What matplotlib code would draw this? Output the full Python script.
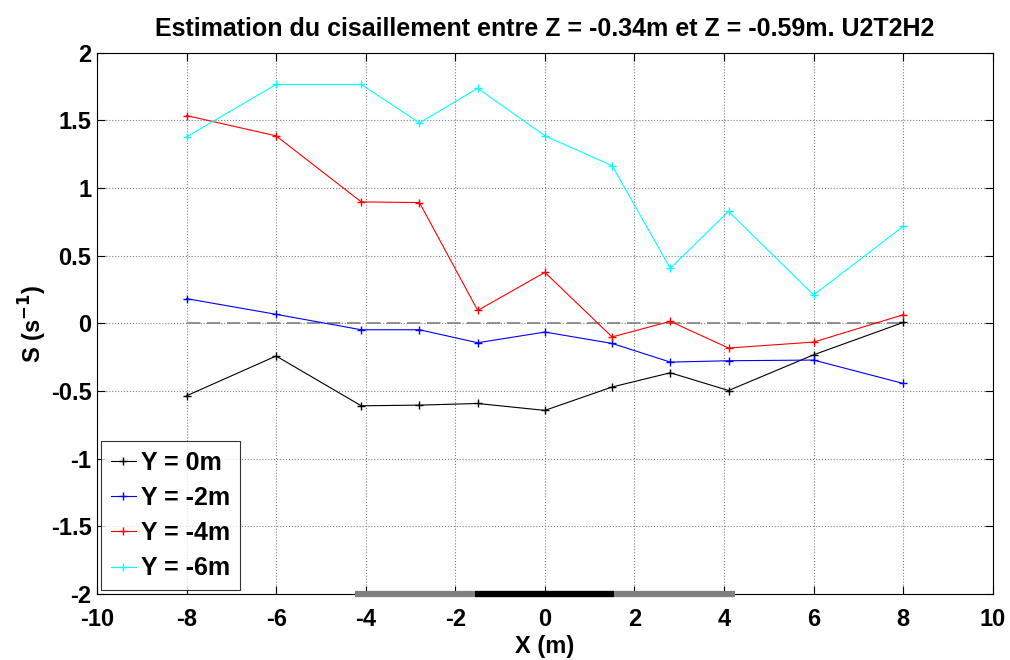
import numpy as np
import matplotlib
matplotlib.use("Agg")
import matplotlib.pyplot as plt

plt.rcParams['font.family'] = ['Liberation Sans', 'DejaVu Sans']
plt.rcParams['font.weight'] = 'bold'
plt.rcParams['axes.unicode_minus'] = False
plt.rcParams['mathtext.default'] = 'bf'

# Données
X = [-8, -6, -4.1, -2.8, -1.5, 0, 1.5, 2.8, 4.1, 6, 8]
S_y0 = [-0.535, -0.241, -0.609, -0.604, -0.592, -0.643, -0.470, -0.365, -0.496, -0.232, 0.007]
S_y2 = [0.183, 0.067, -0.047, -0.047, -0.143, -0.064, -0.148, -0.286, -0.276, -0.271, -0.444]
S_y4 = [1.536, 1.386, 0.898, 0.893, 0.096, 0.377, -0.100, 0.015, -0.182, -0.138, 0.064]
S_y6 = [1.379, 1.766, 1.766, 1.482, 1.738, 1.386, 1.166, 0.407, 0.828, 0.210, 0.717]
labels = ["Y = 0m", "Y = -2m", "Y = -4m", "Y = -6m"]
couleurs = ["black", "blue", "red", "cyan"]

# barres en bas (zones)
zone_grise = [-4.25, 4.25]
zone_noire = [-1.55, 1.55]

fig = plt.figure(figsize=(10.1, 6.6), dpi=100)
ax = fig.add_axes([0.096, 0.1, 0.887, 0.82])

ax.plot([X[0], X[-1]], [0, 0], color="gray", linestyle=(0, (8, 4)), linewidth=1.2, zorder=1)

for serie, lab, c in zip([S_y0, S_y2, S_y4, S_y6], labels, couleurs):
    ax.plot(X, serie, color=c, marker="+", markersize=6, linewidth=0.8, label=lab, zorder=3)

ax.plot(zone_grise, [-2, -2], color="#808080", linewidth=4.5, solid_capstyle="butt", clip_on=False, zorder=5)
ax.plot(zone_noire, [-2, -2], color="black", linewidth=4.5, solid_capstyle="butt", clip_on=False, zorder=6)

ax.set_xlim(-10, 10)
ax.set_ylim(-2, 2)
ax.set_xticks(np.arange(-10, 11, 2))
ax.set_yticks(np.arange(-2, 2.01, 0.5))
ax.set_yticklabels(["-2", "-1.5", "-1", "-0.5", "0", "0.5", "1", "1.5", "2"])
ax.tick_params(direction="in", labelsize=17, length=6, top=True, right=True)
ax.tick_params(axis="y", pad=4)
ax.tick_params(axis="x", pad=10)
for t in ax.get_xticklabels() + ax.get_yticklabels():
    t.set_fontweight("bold")
ax.grid(True, linestyle=":", color="gray", linewidth=0.8)

ax.set_xlabel("X (m)", fontsize=17, fontweight="bold", labelpad=3)
ax.set_ylabel("S (s$^{-1}$)", fontsize=17, fontweight="bold", labelpad=1)
ax.set_title("Estimation du cisaillement entre Z = -0.34m et Z = -0.59m. U2T2H2",
             fontsize=18, fontweight="bold", pad=12)

leg = ax.legend(loc="lower left", handlelength=1.0, handletextpad=0.2,
                labelspacing=0.45, borderaxespad=0.15, fancybox=False,
                prop={"weight": "bold", "size": 18})
leg.get_frame().set_edgecolor("black")
leg.get_frame().set_linewidth(0.8)

fig.savefig("out.png", dpi=100)
